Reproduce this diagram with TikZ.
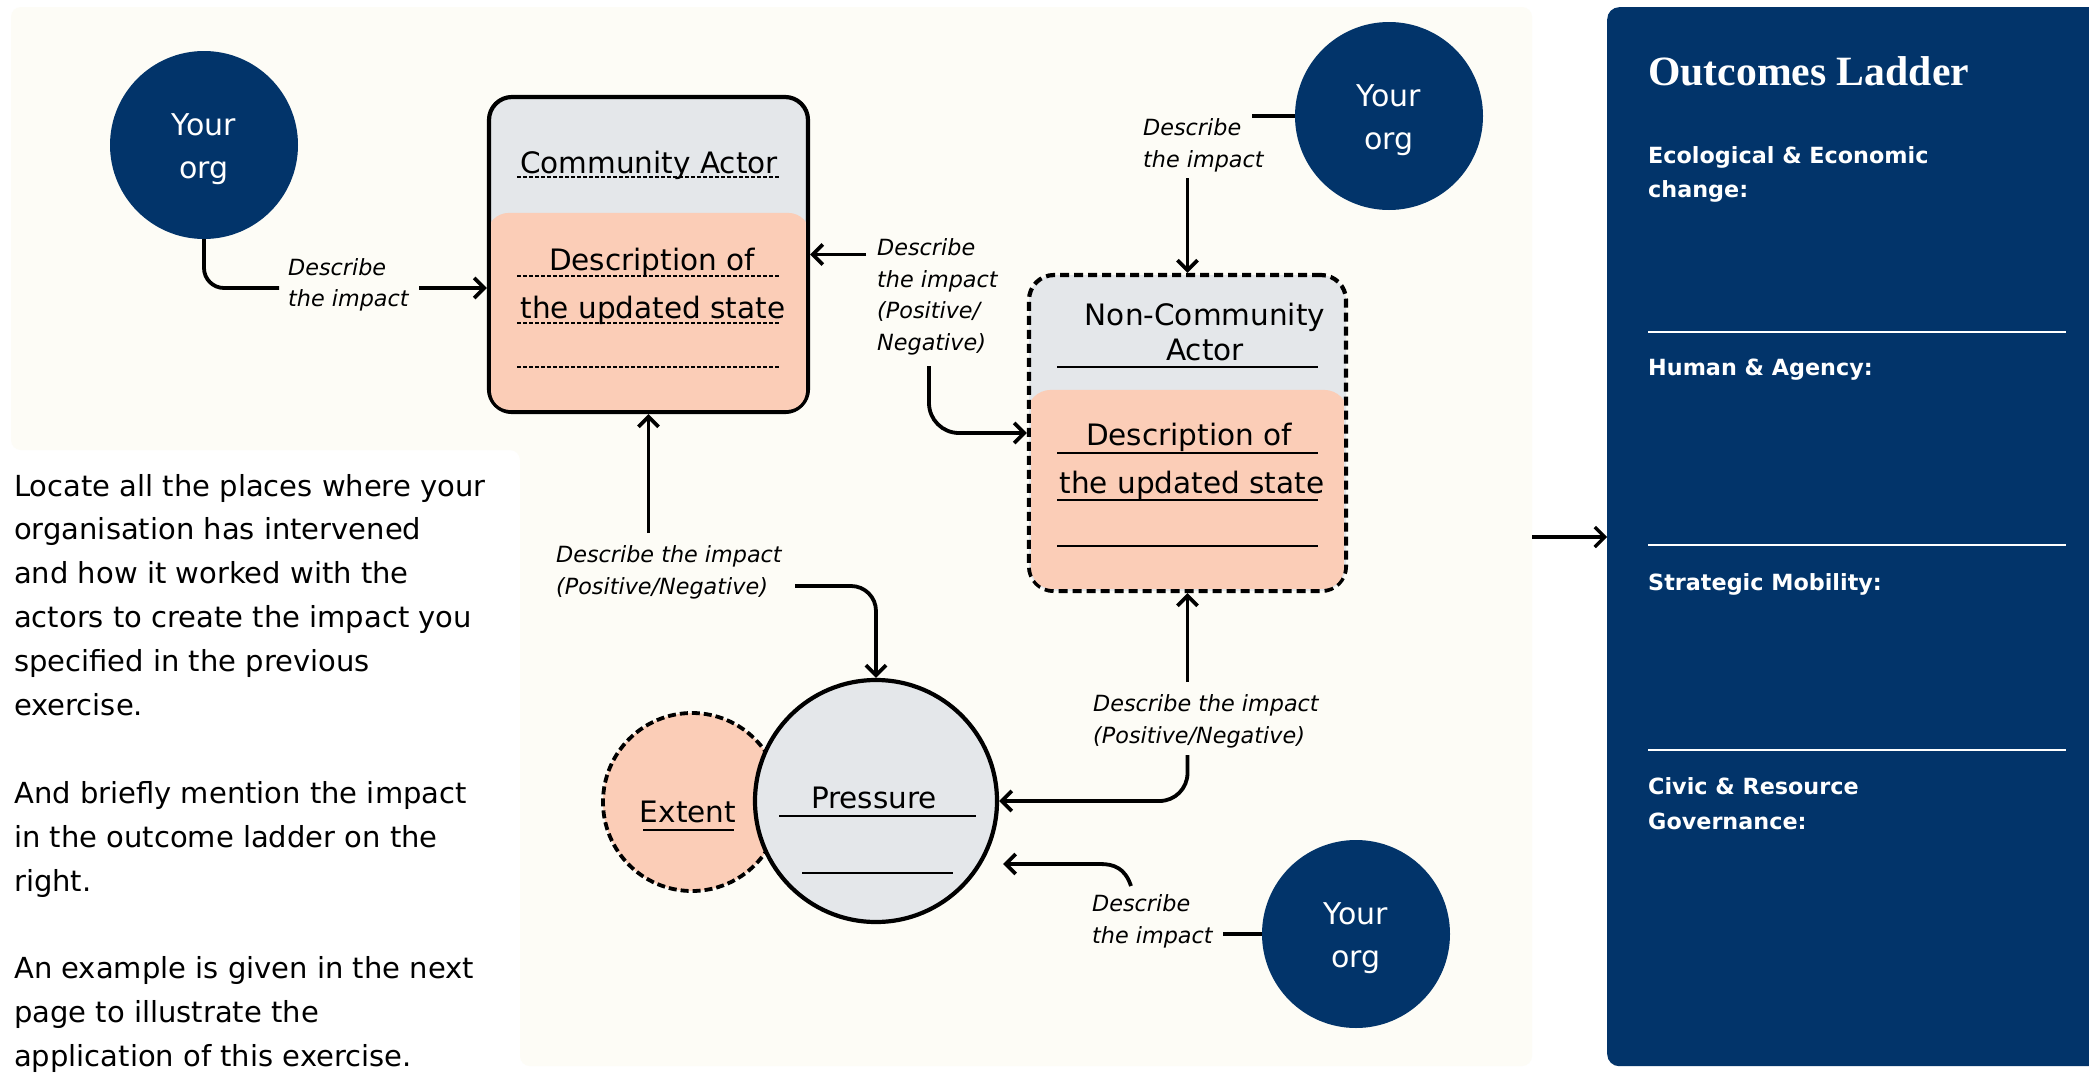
\documentclass[tikz,border=0pt]{standalone}
\usepackage{fontspec}
\setmainfont{DejaVu Sans}
\newfontfamily\titlefont{Liberation Serif}
\usetikzlibrary{arrows.meta}

\definecolor{cream}{HTML}{FDFCF6}
\definecolor{navy}{HTML}{02346A}
\definecolor{greyfill}{HTML}{E4E7EA}
\definecolor{salmon}{HTML}{FBCDB7}

\tikzset{
  link/.style={line width=3.8pt, black},
  arr/.style={link, -{Straight Barb[length=10pt,width=20pt]}},
  orgdisc/.style={circle, fill=navy, minimum size=188pt, inner sep=0pt},
  orgtext/.style={text=white, inner sep=0pt, anchor=base, font=\fontsize{30}{36}\selectfont},
  actorbox/.style={rectangle, draw=black, fill=greyfill, line width=4.2pt, inner sep=0pt},
  boxtext/.style={inner sep=0pt, anchor=base, font=\fontsize{29.5}{35}\selectfont},
  lab/.style={inner sep=0pt, anchor=base west, font=\fontsize{22.3}{30}\selectfont\itshape},
  intro/.style={inner sep=0pt, anchor=base west, font=\fontsize{29}{44}\selectfont},
  rung/.style={inner sep=0pt, anchor=base west, text=white, font=\fontsize{22.3}{30}\selectfont\bfseries},
  dashrule/.style={line width=1.4pt, dash pattern=on 4pt off 2pt},
  solidrule/.style={line width=1.8pt},
}

\begin{document}
\begin{tikzpicture}[x=1pt,y=-1pt]
\path[use as bounding box, clip] (0,0) rectangle (2089,1076);
\fill[white] (0,0) rectangle (2089,1076);

% cream work area with the cut-out for the instructions
\fill[cream, rounded corners=10pt] (11,7) -- (1532,7) -- (1532,1066) -- (520,1066)
  -- (520,450) -- (11,450) -- cycle;

% outcomes ladder panel
\node[fill=navy, rounded corners=12pt, minimum width=520pt, minimum height=1059pt,
      inner sep=0pt, anchor=north west] (ladder) at (1607,7) {};
\node[inner sep=0pt, anchor=base west, text=white,
      font=\titlefont\bfseries\fontsize{41.7}{48}\selectfont] (ladder-title) at (1648,85) {Outcomes Ladder};
\node[rung] (rung1a) at (1648,163) {Ecological \& Economic};
\node[rung] (rung1b) at (1648,197) {change:};
\node[rung] (rung2) at (1648,375) {Human \& Agency:};
\node[rung] (rung3) at (1648,590) {Strategic Mobility:};
\node[rung] (rung4a) at (1648,794) {Civic \& Resource};
\node[rung] (rung4b) at (1648,829) {Governance:};
\foreach \y in {332,545,750} \draw[white, line width=1.5pt] (1648,\y) -- (2066,\y);

% instructions
\foreach \k/\t [count=\n] in {0/Locate all the places where your,
  1/organisation has intervened, 2/and how it worked with the,
  3/actors to create the impact you, 4/specified in the previous,
  5/exercise., 7/And briefly mention the impact, 8/in the outcome ladder on the,
  9/right., 11/An example is given in the next, 12/page to illustrate the,
  13/application of this exercise.}
  \node[intro] (intro\n) at (14,{496+43.9*\k}) {\t};

% community actor
\node[actorbox, minimum width=319pt, minimum height=315pt, rounded corners=23pt] (ca) at (648.5,254.5) {};
\path (ca.north west) ++(0,118) coordinate (ca-split);
\begin{scope}
  \clip[rounded corners=19pt] ([shift={(4.2pt,4.2pt)}]ca.south west) rectangle ([shift={(-4.2pt,-4.2pt)}]ca.north east);
  \fill[salmon, rounded corners=22pt] (ca-split) rectangle ([yshift=-30pt]ca.south east);
\end{scope}
\node[boxtext] (ca-title) at (649,173) {Community Actor};
\node[boxtext] (ca-d1) at (652,270) {Description of};
\node[boxtext] (ca-d2) at (653,318) {the updated state};
\foreach \y in {177,276,323,367} \draw[dashrule] (517,\y) -- (780,\y);

% non-community actor
\node[actorbox, dash pattern=on 9pt off 5pt, minimum width=317pt, minimum height=316pt,
      rounded corners=25pt] (nc) at (1187.5,433) {};
\path (nc.north west) ++(0,117) coordinate (nc-split);
\begin{scope}
  \clip[rounded corners=21pt] ([shift={(4.2pt,4.2pt)}]nc.south west) rectangle ([shift={(-4.2pt,-4.2pt)}]nc.north east);
  \fill[salmon, rounded corners=24pt] (nc-split) rectangle ([yshift=-30pt]nc.south east);
\end{scope}
\node[boxtext] (nc-t1) at (1205,325) {Non-Community};
\node[boxtext] (nc-t2) at (1205,360) {Actor};
\node[boxtext] (nc-d1) at (1189,445) {Description of};
\node[boxtext] (nc-d2) at (1192,493) {the updated state};
\foreach \y in {367,453,500,546} \draw[solidrule] (1057,\y) -- (1318,\y);

% extent and pressure
\node[circle, fill=salmon, draw=black, line width=3.8pt, dash pattern=on 8pt off 4pt,
      minimum size=178pt, inner sep=0pt] (ext) at (692,802) {};
\node[circle, fill=greyfill, draw=black, line width=4.2pt, minimum size=242pt, inner sep=0pt] (pres) at (876,801) {};
\node[boxtext] (ext-t) at (688,822) {Extent};
\draw[line width=2.2pt] (643,830) -- (734,830);
\node[boxtext] (pres-t) at (874,808) {Pressure};
\draw[solidrule] (779,816) -- (976,816);
\draw[solidrule] (802,873) -- (953,873);

% organisations
\node[orgdisc] (org1) at (204,145) {};
\node[orgtext] (org1-a) at (204,135) {Your};
\node[orgtext] (org1-b) at (204,178) {org};
\node[orgdisc] (org2) at (1389,116) {};
\node[orgtext] (org2-a) at (1389,106) {Your};
\node[orgtext] (org2-b) at (1389,149) {org};
\node[orgdisc] (org3) at (1356,934) {};
\node[orgtext] (org3-a) at (1356,924) {Your};
\node[orgtext] (org3-b) at (1356,967) {org};

% labels
\node[lab] (l1a) at (288,275) {Describe};
\node[lab] (l1b) at (288,306) {the impact};
\node[lab] (l2a) at (877,255) {Describe};
\node[lab] (l2b) at (877,287) {the impact};
\node[lab] (l2c) at (877,318) {(Positive/};
\node[lab] (l2d) at (877,350) {Negative)};
\node[lab] (l3a) at (1143,135) {Describe};
\node[lab] (l3b) at (1143,167) {the impact};
\node[lab] (l4a) at (556,562) {Describe the impact};
\node[lab] (l4b) at (556,594) {(Positive/Negative)};
\node[lab] (l5a) at (1093,711) {Describe the impact};
\node[lab] (l5b) at (1093,743) {(Positive/Negative)};
\node[lab] (l6a) at (1092,911) {Describe};
\node[lab] (l6b) at (1092,943) {the impact};

% connectors
\coordinate (c1e) at (279,288);
\coordinate (c1s) at (419,288);
\draw[link, rounded corners=20pt] (org1.south) |- (c1e);
\draw[arr] (c1s) -- (ca.west |- c1s);

\coordinate (c2s) at (866,254.5);
\draw[arr] (c2s) -- (ca.east);
\coordinate (c3s) at (929,366);
\draw[arr, rounded corners=30pt] (c3s) |- (nc.west);

\coordinate (c4e) at (1252,116);
\coordinate (c4s) at (1187.5,178);
\draw[link] (org2.west) -- (c4e);
\draw[arr] (c4s) -- (nc.north);

\coordinate (c5s) at (648.5,533);
\draw[arr] (c5s) -- (ca.south);
\coordinate (c6s) at (795,586);
\draw[arr, rounded corners=25pt] (c6s) -| (pres.north);

\coordinate (c7s) at (1187.5,682);
\draw[arr] (c7s) -- (nc.south);
\coordinate (c8s) at (1187.5,755);
\draw[arr, rounded corners=28pt] (c8s) |- (pres.east);

\coordinate (c9e) at (1223,934);
\draw[link] (org3.west) -- (c9e);
\coordinate (c9s) at (1131,886);
\coordinate (c9t) at (1003,864);
\draw[arr] (c9s) .. controls (1125,868) and (1114,864) .. (1100,864) -- (c9t);

\coordinate (c10s) at (1532,537);
\draw[arr, line width=3.2pt] (c10s) -- (c10s -| ladder.west);
\end{tikzpicture}
\end{document}
